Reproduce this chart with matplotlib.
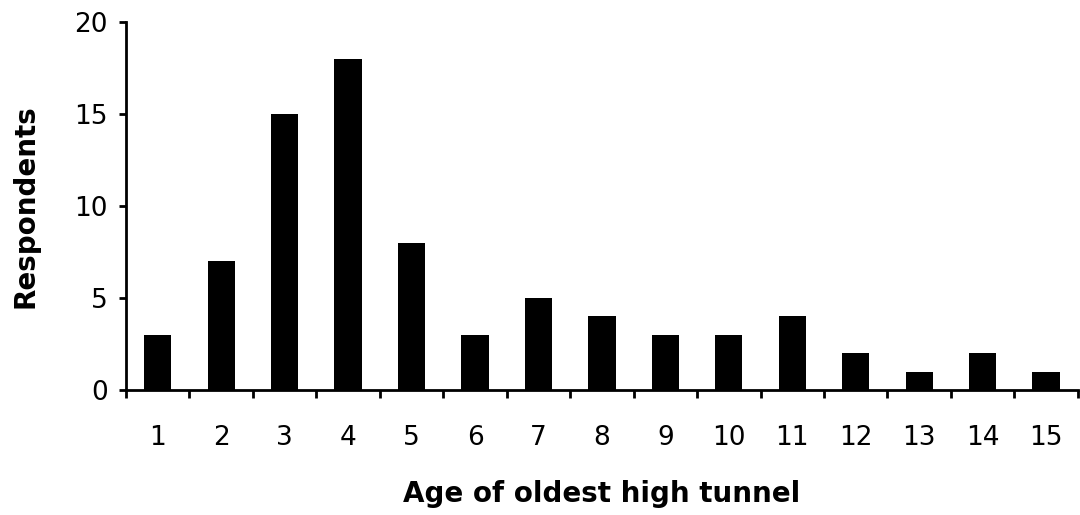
import matplotlib
matplotlib.use("Agg")
import matplotlib.pyplot as plt
import numpy as np

ages = list(range(1, 16))
respondents = [3, 7, 15, 18, 8, 3, 5, 4, 3, 3, 4, 2, 1, 2, 1]
yticks = [0, 5, 10, 15, 20]

plt.rcParams["font.family"] = ["DejaVu Sans"]

fig = plt.figure(figsize=(10.8, 5.15), dpi=100)
ax = fig.add_axes([0.1167, 0.2427, 0.8813, 0.7143])

ax.bar(ages, respondents, width=0.43, color="black")

ax.set_xlim(0.5, 15.5)
ax.set_ylim(0, 20)
ax.set_yticks(yticks)
ax.set_xticks(ages)
ax.set_xticklabels([str(a) for a in ages])
ax.set_xticks(np.arange(0.5, 16, 1), minor=True)

for s in ["top", "right"]:
    ax.spines[s].set_visible(False)
for s in ["left", "bottom"]:
    ax.spines[s].set_linewidth(2)

ax.tick_params(axis="x", which="major", length=0, pad=25, labelsize=19)
ax.tick_params(axis="x", which="minor", length=6, width=2, direction="out")
ax.tick_params(axis="y", length=5, width=2, direction="out", pad=8, labelsize=19)

ax.set_xlabel("Age of oldest high tunnel", fontsize=20, fontweight="bold", labelpad=21)
ax.set_ylabel("Respondents", fontsize=20, fontweight="bold", labelpad=25)

fig.savefig("out.png", dpi=100)
